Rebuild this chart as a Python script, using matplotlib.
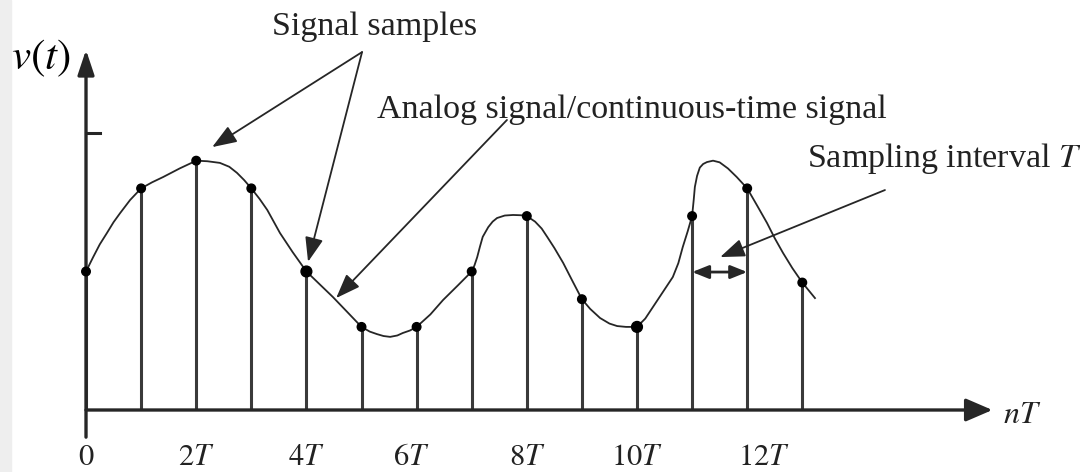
import matplotlib.pyplot as plt
from matplotlib.patches import Rectangle

plt.rcParams['font.family'] = ['Liberation Serif', 'DejaVu Serif']
plt.rcParams['mathtext.fontset'] = 'stix'

# sample instants (in units of T) and sampled values
n = list(range(14))
samples = [5.0, 8.0, 9.0, 8.0, 5.0, 3.0, 3.0, 5.0, 7.0, 4.0, 3.0, 7.0, 8.0, 4.6]
big_dots = [4, 10]

# continuous-time signal
curve_t = [0, 0.13, 0.25, 0.38, 0.5, 0.62, 0.8, 1.0,
           1.2, 1.4, 1.7, 2.0,
           2.2, 2.43, 2.6, 2.74, 2.87, 3.0,
           3.15, 3.29, 3.52, 3.75, 4.0,
           4.25, 4.48, 4.75, 5.0,
           5.15, 5.28, 5.4, 5.52, 5.65, 5.75, 5.88, 6.0,
           6.25, 6.48, 6.75, 7.0,
           7.05, 7.1, 7.15, 7.2, 7.3, 7.38, 7.46, 7.6, 7.75, 7.9, 8.0,
           8.15, 8.27, 8.37, 8.5, 8.66, 8.83, 9.0,
           9.15, 9.33, 9.5, 9.64, 9.8, 10.0,
           10.15, 10.29, 10.45, 10.65, 10.75, 10.83, 10.92, 11.0,
           11.03, 11.05, 11.09, 11.14, 11.2, 11.27, 11.38, 11.5, 11.65, 11.81, 12.0,
           12.18, 12.36, 12.5, 12.65, 12.82, 13.0, 13.23]
curve_v = [5.0, 5.52, 5.98, 6.39, 6.78, 7.11, 7.58, 8.0,
           8.22, 8.41, 8.72, 9.0,
           8.98, 8.92, 8.78, 8.56, 8.3, 8.0,
           7.62, 7.22, 6.39, 5.7, 5.0,
           4.52, 4.08, 3.52, 3.0,
           2.83, 2.74, 2.67, 2.64, 2.69, 2.78, 2.87, 3.0,
           3.45, 3.97, 4.5, 5.0,
           5.22, 5.52, 5.9, 6.25, 6.6, 6.8, 6.93, 7.02, 7.04, 7.03, 7.0,
           6.8, 6.55, 6.25, 5.85, 5.31, 4.65, 4.0,
           3.65, 3.32, 3.12, 3.03, 3.0, 3.0,
           3.3, 3.72, 4.2, 4.8, 5.3, 5.88, 6.45, 7.0,
           7.6, 8.05, 8.45, 8.75, 8.88, 8.95, 9.0, 8.94, 8.72, 8.41, 8.0,
           7.38, 6.75, 6.2, 5.67, 5.12, 4.6, 4.04]

tick_pos = [0, 2, 4, 6, 8, 10, 12]
tick_labels = ['$0$', '$2T$', '$4T$', '$6T$', '$8T$', '$10T$', '$12T$']
tick_nudge = [0, 0, 0, -0.1, 0, 0, 0.3]

ink = '#262626'

fig = plt.figure(figsize=(10.8, 4.72), dpi=100)
fig.patches.append(Rectangle((0, 0), 11 / 1080, 1, transform=fig.transFigure,
                             color='#eeeeee', zorder=0))
ax = fig.add_axes([0, 0, 1, 1])
ax.set_xlim(-1.561, 18.04)
ax.set_ylim(-2.238, 14.80)
ax.axis('off')

# axes with arrow heads
ax.annotate('', xy=(16.45, 0), xytext=(0, 0),
            arrowprops=dict(arrowstyle='-|>,head_length=0.65,head_width=0.28',
                            mutation_scale=25, lw=2.4, color=ink,
                            shrinkA=0, shrinkB=0))
ax.annotate('', xy=(0, 13.0), xytext=(0, -0.98),
            arrowprops=dict(arrowstyle='-|>,head_length=0.6,head_width=0.2',
                            mutation_scale=25, lw=2.4, color=ink,
                            shrinkA=0, shrinkB=0))
ax.plot([0, 0.26], [10, 10], color=ink, lw=2.2)

# stems and samples
ax.vlines(n, 0, samples, color='#3a3a3a', lw=2.2)
sizes = [60 if i in big_dots else 38 for i in n]
ax.scatter(n, samples, s=sizes, color='black', zorder=4)

# analog signal
ax.plot(curve_t, curve_v, color=ink, lw=1.3, zorder=3)

# tick labels
for p, lab, dx in zip(tick_pos, tick_labels, tick_nudge):
    ax.text(p + dx, -1.98, lab, ha='center', va='baseline', fontsize=22,
            color='#222222')

ax.text(16.65, -0.47, '$nT$', ha='left', va='baseline', fontsize=23,
        color='#222222')
ax.text(-1.36, 12.3, '$v(t)$', ha='left', va='baseline', fontsize=31,
        color='black')

# annotations
txt = dict(fontsize=24.5, color='#222222', va='baseline', ha='left')
ax.text(3.376, 13.54, 'Signal samples', **txt)
ax.text(5.28, 10.55, 'Analog signal/continuous-time signal', **txt)
ax.text(13.08, 8.77, 'Sampling interval $T$', **txt)

arrow = dict(arrowstyle='-|>,head_length=0.75,head_width=0.28',
             mutation_scale=20, lw=1.3, color=ink, shrinkA=0, shrinkB=0)
ax.annotate('', xy=(2.29, 9.49), xytext=(5.01, 12.92), arrowprops=arrow)
ax.annotate('', xy=(4.03, 5.35), xytext=(5.01, 12.92), arrowprops=arrow)
ax.annotate('', xy=(4.54, 4.04), xytext=(7.64, 10.47), arrowprops=arrow)
ax.annotate('', xy=(11.51, 5.52), xytext=(14.5, 7.94), arrowprops=arrow)

ax.annotate('', xy=(12, 4.98), xytext=(11, 4.98),
            arrowprops=dict(arrowstyle='<|-|>,head_length=0.5,head_width=0.2',
                            mutation_scale=20, lw=2.0, color=ink,
                            shrinkA=0, shrinkB=0))

fig.savefig('out.png', dpi=100)
